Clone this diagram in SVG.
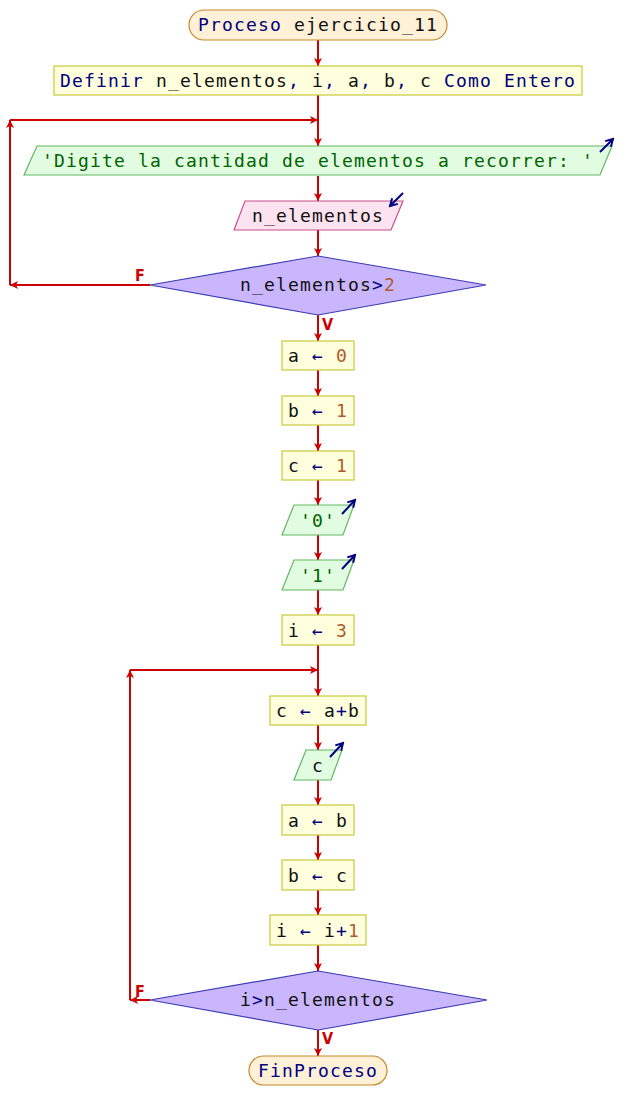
<svg xmlns="http://www.w3.org/2000/svg" width="636" height="1120" viewBox="0 0 636 1120">
<defs>
<marker id="ar" markerUnits="userSpaceOnUse" markerWidth="10" markerHeight="10" refX="9" refY="5" orient="auto"><path d="M1,1 L9,5 L1,9 L3,5 Z" fill="#cc0000"/></marker>
<marker id="io" markerUnits="userSpaceOnUse" markerWidth="10" markerHeight="10" refX="8" refY="5" orient="auto"><path d="M1,1 L8,5 L1,9" fill="none" stroke="#000080" stroke-width="2"/></marker>
<style>
text{font-family:"DejaVu Sans Mono","Liberation Mono",monospace;font-size:18px;letter-spacing:1.16px;fill:#111;}
.m{text-anchor:middle;}
.k{fill:#000080;}
.n{fill:#b05a2a;}
.g{fill:#006400;}
.term{fill:#fff0d8;stroke:#c8882a;stroke-width:1.2;}
.proc{fill:#ffffdd;stroke:#c8c83c;stroke-width:1.2;}
.out{fill:#e2fce2;stroke:#62b862;stroke-width:1.2;}
.inp{fill:#fde3f0;stroke:#c8508c;stroke-width:1.2;}
.dec{fill:#c9b6fd;stroke:#3c3cb4;stroke-width:1.2;}
.c path{fill:none;stroke:#cc0000;stroke-width:2;}
.c .a{marker-end:url(#ar);}
.ic{stroke:#000080;stroke-width:2;fill:none;marker-end:url(#io);}
.lb{font-family:"DejaVu Sans Condensed","DejaVu Sans",sans-serif;font-weight:bold;font-size:16px;fill:#cc0000;letter-spacing:0;}
</style>
</defs>
<g id="connectors" class="c">
<path class="a" d="M318,40 V66"/>
<path class="a" d="M318,95 V146"/>
<path class="a" d="M150,285 H10"/>
<path class="a" d="M10,285 V120"/>
<path class="a" d="M10,120 H318"/>
<path class="a" d="M318,176 V201"/>
<path class="a" d="M318,230 V256"/>
<path class="a" d="M318,315 V341"/>
<path class="a" d="M318,370 V396"/>
<path class="a" d="M318,425 V451"/>
<path class="a" d="M318,480 V505"/>
<path class="a" d="M318,535 V560"/>
<path class="a" d="M318,590 V615"/>
<path class="a" d="M318,645 V696"/>
<path class="a" d="M150,1000 H130"/>
<path class="a" d="M130,1000 V670"/>
<path class="a" d="M130,670 H318"/>
<path class="a" d="M318,725 V750"/>
<path class="a" d="M318,780 V805"/>
<path class="a" d="M318,835 V860"/>
<path class="a" d="M318,890 V915"/>
<path class="a" d="M318,945 V971"/>
<path class="a" d="M318,1030 V1056"/>
<text class="lb" x="135" y="281">F</text>
<text class="lb" x="322" y="330">V</text>
<text class="lb" x="135" y="997">F</text>
<text class="lb" x="322" y="1044">V</text>
</g>
<g id="start"><rect class="term" x="189" y="10" width="258" height="30" rx="15"/><text class="m" x="318" y="31"><tspan class="k">Proceso</tspan> ejercicio_11</text></g>
<g id="definir"><rect class="proc" x="54" y="66" width="528" height="29"/><text class="m" x="318" y="87"><tspan class="k">Definir</tspan> n_elementos<tspan class="k">,</tspan> i<tspan class="k">,</tspan> a<tspan class="k">,</tspan> b<tspan class="k">,</tspan> c <tspan class="k">Como Entero</tspan></text></g>
<g id="out1"><polygon class="out" points="37,146 612,146 600,175 24,175"/><text class="m g" x="318" y="167">'Digite la cantidad de elementos a recorrer: '</text><line class="ic" x1="600" y1="152" x2="613" y2="139"/></g>
<g id="in1"><polygon class="inp" points="245,201 403,201 391,230 234,230"/><text class="m" x="318" y="222">n_elementos</text><line class="ic" x1="403" y1="193" x2="390" y2="206"/></g>
<g id="dec1"><polygon class="dec" points="318,256 486,285 318,315 150,285"/><text class="m" x="318" y="291">n_elementos<tspan class="k">&gt;</tspan><tspan class="n">2</tspan></text></g>
<g id="a0"><rect class="proc" x="282" y="341" width="72" height="29"/><text class="m" x="318" y="362">a <tspan class="k">←</tspan> <tspan class="n">0</tspan></text></g>
<g id="b1"><rect class="proc" x="282" y="396" width="72" height="29"/><text class="m" x="318" y="417">b <tspan class="k">←</tspan> <tspan class="n">1</tspan></text></g>
<g id="c1"><rect class="proc" x="282" y="451" width="72" height="29"/><text class="m" x="318" y="472">c <tspan class="k">←</tspan> <tspan class="n">1</tspan></text></g>
<g id="out0"><polygon class="out" points="294,505 354,505 343,535 282,535"/><text class="m g" x="318" y="527">'0'</text><line class="ic" x1="342" y1="514" x2="355" y2="500"/></g>
<g id="out1b"><polygon class="out" points="294,560 354,560 343,590 282,590"/><text class="m g" x="318" y="582">'1'</text><line class="ic" x1="342" y1="569" x2="355" y2="555"/></g>
<g id="i3"><rect class="proc" x="282" y="615" width="72" height="30"/><text class="m" x="318" y="637">i <tspan class="k">←</tspan> <tspan class="n">3</tspan></text></g>
<g id="cab"><rect class="proc" x="270" y="696" width="96" height="29"/><text class="m" x="318" y="717">c <tspan class="k">←</tspan> a<tspan class="k">+</tspan>b</text></g>
<g id="outc"><polygon class="out" points="306,750 342,750 331,780 294,780"/><text class="m" x="318" y="772">c</text><line class="ic" x1="330" y1="757" x2="343" y2="743"/></g>
<g id="ab"><rect class="proc" x="282" y="805" width="72" height="30"/><text class="m" x="318" y="827">a <tspan class="k">←</tspan> b</text></g>
<g id="bc"><rect class="proc" x="282" y="860" width="72" height="30"/><text class="m" x="318" y="882">b <tspan class="k">←</tspan> c</text></g>
<g id="ii1"><rect class="proc" x="270" y="915" width="96" height="30"/><text class="m" x="318" y="937">i <tspan class="k">←</tspan> i<tspan class="k">+</tspan><tspan class="n">1</tspan></text></g>
<g id="dec2"><polygon class="dec" points="318,971 487,1000 318,1030 150,1000"/><text class="m" x="318" y="1006">i<tspan class="k">&gt;</tspan>n_elementos</text></g>
<g id="end"><rect class="term" x="249" y="1056" width="138" height="29" rx="14.5"/><text class="m k" x="318" y="1077">FinProceso</text></g>
</svg>
